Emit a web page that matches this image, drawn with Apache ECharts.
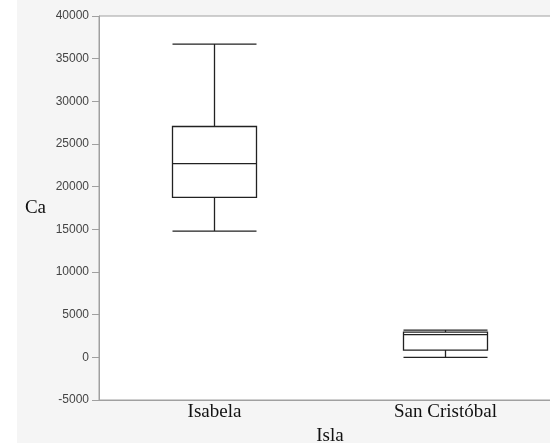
<!DOCTYPE html>
<html><head><meta charset="utf-8">
<script src="https://cdn.jsdelivr.net/npm/echarts@6/dist/echarts.min.js"></script>
<style>html,body{margin:0;padding:0;background:#fff}#c{width:550px;height:443px}</style>
</head><body><div id="c"></div>
<script>
const categories = ['Isabela', 'San Cristóbal'];
// [min, Q1, median, Q3, max]
const isabelaBox = [14800, 18750, 22700, 27050, 36700];
const sanCristobalBox = [0, 850, 2650, 2950, 3200];
const yTicks = { min: -5000, max: 40000, interval: 5000 };

const chart = echarts.init(document.getElementById('c'), null, { renderer: 'canvas' });
chart.setOption({
  animation: false,
  backgroundColor: '#f5f5f5',
  graphic: [{ type: 'rect', left: 0, top: 0, shape: { width: 17, height: 443 }, style: { fill: '#ffffff' }, z: -10 }],
  grid: { left: 99, top: 16, width: 462, height: 384, outerBoundsMode: 'none', containLabel: false, show: true, backgroundColor: '#ffffff', borderColor: '#a0a0a0', borderWidth: 1 },
  xAxis: {
    type: 'category', data: categories,
    name: 'Isla', nameLocation: 'middle', nameGap: 26,
    nameTextStyle: { fontFamily: 'Liberation Serif', fontSize: 19, color: '#111' },
    axisLine: { onZero: false, lineStyle: { color: '#a0a0a0' } },
    axisTick: { show: false },
    axisLabel: { fontFamily: 'Liberation Serif', fontSize: 19, color: '#111', margin: 3 },
    splitLine: { show: false }
  },
  yAxis: {
    type: 'value', min: yTicks.min, max: yTicks.max, interval: yTicks.interval,
    name: 'Ca', nameLocation: 'middle', nameGap: 53, nameRotate: 0,
    nameTextStyle: { fontFamily: 'Liberation Serif', fontSize: 19, color: '#111' },
    axisLine: { show: true, lineStyle: { color: '#a0a0a0' } },
    axisTick: { show: true, length: 7, lineStyle: { color: '#a0a0a0' } },
    axisLabel: { fontFamily: 'Liberation Sans', fontSize: 12, color: '#444', margin: 10, formatter: v => String(v) },
    splitLine: { show: false }
  },
  series: [{
    type: 'boxplot',
    data: [isabelaBox, sanCristobalBox],
    boxWidth: [84, 84],
    itemStyle: { color: '#ffffff', borderColor: '#222', borderWidth: 1.3 }
  }]
});
</script></body></html>
